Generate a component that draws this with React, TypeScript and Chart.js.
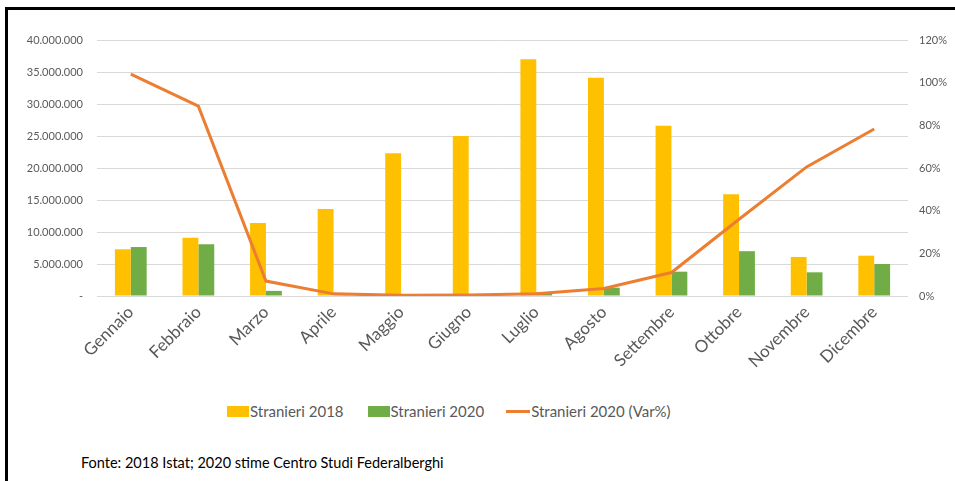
import React, { useEffect, useRef } from "react";
import { Chart, registerables } from "chart.js";

Chart.register(...registerables);

const months = ["Gennaio", "Febbraio", "Marzo", "Aprile", "Maggio", "Giugno", "Luglio", "Agosto", "Settembre", "Ottobre", "Novembre", "Dicembre"];
const stranieri2018 = [7300000, 9100000, 11400000, 13600000, 22300000, 25000000, 37000000, 34100000, 26600000, 15900000, 6100000, 6300000];
const stranieri2020 = [7650000, 8100000, 800000, 130000, 70000, 120000, 550000, 1300000, 3800000, 7000000, 3700000, 5000000];
const stranieri2020Var = [104, 89, 7, 1, 0.3, 0.5, 1, 3.5, 11, 36, 60.5, 78.3];
const legendLabels = ["Stranieri 2018", "Stranieri 2020", "Stranieri 2020 (Var%)"];
const sourceText = "Fonte: 2018 Istat; 2020 stime Centro Studi Federalberghi";

const YELLOW = "#FFC000";
const GREEN = "#70AD47";
const ORANGE = "#ED7D31";
const FONT = "Lato, 'Noto Sans', sans-serif";

function fmtIt(v: number): string {
  if (v === 0) return "-";
  return String(Math.round(v)).replace(/\B(?=(\d{3})+(?!\d))/g, ".");
}

export default function App() {
  const ref = useRef<HTMLCanvasElement | null>(null);
  useEffect(() => {
    if (!ref.current) return;
    const chart = new Chart(ref.current, {
      type: "bar",
      data: {
        labels: months,
        datasets: [
          {
            type: "line",
            label: legendLabels[2],
            data: stranieri2020Var,
            borderColor: ORANGE,
            backgroundColor: ORANGE,
            borderWidth: 3,
            pointRadius: 0,
            tension: 0,
            yAxisID: "y1",
            order: 0,
          } as any,
          {
            label: legendLabels[0],
            data: stranieri2018,
            backgroundColor: YELLOW,
            yAxisID: "y",
            barPercentage: 1,
            categoryPercentage: 0.47,
            order: 1,
          },
          {
            label: legendLabels[1],
            data: stranieri2020,
            backgroundColor: GREEN,
            yAxisID: "y",
            barPercentage: 1,
            categoryPercentage: 0.47,
            order: 1,
          },
        ],
      },
      options: {
        responsive: false,
        animation: false,
        layout: { padding: { top: 40, left: 0, right: 0, bottom: 0 } },
        plugins: { legend: { display: false }, tooltip: { enabled: false } },
        scales: {
          x: {
            grid: { display: false, drawTicks: false },
            border: { display: false },
            ticks: {
              color: "#595959",
              font: { family: FONT, size: 17 },
              minRotation: 45,
              maxRotation: 45,
              padding: 6,
              autoSkip: false,
            },
            afterFit: (s: any) => {
              s.height = 94;
            },
          },
          y: {
            position: "left",
            min: 0,
            max: 40000000,
            grid: { color: "#d9d9d9", drawTicks: false, lineWidth: 1 },
            border: { display: false },
            ticks: {
              stepSize: 5000000,
              color: "#595959",
              font: { family: FONT, size: 11 },
              padding: 14,
              callback: (v: any) => fmtIt(Number(v)),
            },
            afterFit: (s: any) => {
              s.width = 97;
            },
          },
          y1: {
            position: "right",
            min: 0,
            max: 120,
            grid: { drawOnChartArea: false, drawTicks: false },
            border: { display: false },
            ticks: {
              stepSize: 20,
              color: "#595959",
              font: { family: FONT, size: 11 },
              padding: 11,
              callback: (v: any) => `${v}%`,
            },
            afterFit: (s: any) => {
              s.width = 47;
            },
          },
        },
      } as any,
    });
    return () => chart.destroy();
  }, []);

  const textStyle: React.CSSProperties = { fontFamily: FONT, fontSize: 15, color: "#595959", marginLeft: 1, whiteSpace: "nowrap" };

  return (
    <div style={{ position: "absolute", left: 0, top: 0, width: 955, height: 481, overflow: "hidden", background: "#fff" }}>
      <div style={{ position: "absolute", left: 5, top: 7, width: 960, height: 480, borderLeft: "3px solid #000", borderTop: "3px solid #000" }} />
      <canvas ref={ref} width={955} height={390} style={{ position: "absolute", left: 0, top: 0 }} />
      <div style={{ position: "absolute", left: 227, top: 400, height: 22, display: "flex", alignItems: "center" }}>
        <div style={{ width: 22, height: 11, background: YELLOW }} />
        <span style={textStyle}>{legendLabels[0]}</span>
        <div style={{ width: 22, height: 11, background: GREEN, marginLeft: 24 }} />
        <span style={textStyle}>{legendLabels[1]}</span>
        <div style={{ width: 24, height: 3, background: ORANGE, marginLeft: 22 }} />
        <span style={textStyle}>{legendLabels[2]}</span>
      </div>
      <div style={{ position: "absolute", left: 81, top: 454, fontFamily: FONT, fontSize: 14.5, color: "#000", whiteSpace: "nowrap" }}>{sourceText}</div>
    </div>
  );
}
